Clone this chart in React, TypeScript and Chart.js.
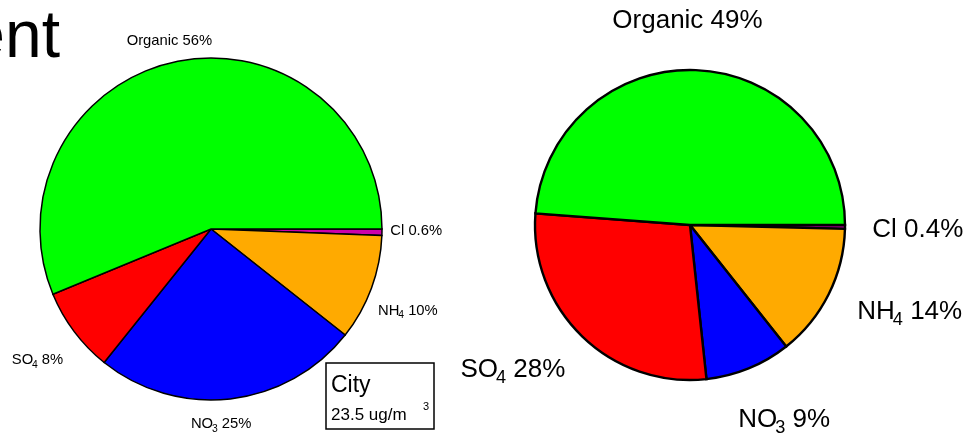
import React, { useEffect, useRef } from 'react';
import { Chart, registerables } from 'chart.js';

Chart.register(...registerables);

// ---- data ----
const categories = ['Cl', 'NH4', 'NO3', 'SO4', 'Organic'];
const cityValues = [0.6, 10, 25, 8, 56];
const secondValues = [0.4, 14, 9, 28, 49];
const sliceColors = ['#CC00AA', '#FFAA00', '#0000FF', '#FF0000', '#00FF00'];
const cityTitle = 'City';
const cityConcentration = '23.5 ug/m';
const concentrationExponent = '3';
const headingFragment = 'ent';

// ---- layout / style ----
const FONT = '"Liberation Sans", Arial, Helvetica, sans-serif';
const W = 972;
const H = 435;

type PieLayout = {
  canvasLeft: number;
  canvasWidth: number;
  cx: number;
  cy: number;
  r: number;
  border: number;
  fontSize: number;
  labelAngleOffset: number[];
  labelRadius: number[];
};

const leftLayout: PieLayout = {
  canvasLeft: 0,
  canvasWidth: 460,
  cx: 211,
  cy: 229,
  r: 171,
  border: 1.5,
  fontSize: 14.8,
  labelAngleOffset: [-0.8, 2.1, 3.5, 0, -1.2],
  labelRadius: [1.2, 1.245, 1.136, 1.268, 1.132],
};

const rightLayout: PieLayout = {
  canvasLeft: 460,
  canvasWidth: 512,
  cx: 230,
  cy: 225,
  r: 155,
  border: 2.4,
  fontSize: 26,
  labelAngleOffset: [0, -5.4, -3.8, 7, -2.85],
  labelRadius: [1.47, 1.52, 1.385, 1.468, 1.33],
};

function labelParts(name: string, value: number, size: number) {
  const m = name.match(/^([A-Za-z]+?)(\d+)$/);
  const rest = ` ${value}%`;
  if (!m) return [{ t: name + rest, s: size, dy: 0, kern: 0 }];
  return [
    { t: m[1], s: size, dy: 0, kern: 0 },
    { t: m[2], s: size * 0.7, dy: size * 0.22, kern: -size * 0.08 },
    { t: rest, s: size, dy: 0, kern: 0 },
  ];
}

function drawLabel(ctx: CanvasRenderingContext2D, name: string, value: number, cx: number, cy: number, size: number) {
  const parts = labelParts(name, value, size);
  let w = 0;
  const widths: number[] = [];
  for (const p of parts) {
    ctx.font = `${p.s}px ${FONT}`;
    const mw = ctx.measureText(p.t).width;
    widths.push(mw);
    w += mw + p.kern;
  }
  let x = cx - w / 2;
  const base = cy + (size * 0.716) / 2;
  ctx.fillStyle = '#000';
  ctx.textAlign = 'left';
  ctx.textBaseline = 'alphabetic';
  parts.forEach((p, i) => {
    ctx.font = `${p.s}px ${FONT}`;
    x += p.kern;
    ctx.fillText(p.t, x, base + p.dy);
    x += widths[i];
  });
}

function makeLabelPlugin(layout: PieLayout, values: number[], extra?: (ctx: CanvasRenderingContext2D) => void) {
  return {
    id: 'sliceLabels',
    afterDraw(chart: any) {
      const ctx: CanvasRenderingContext2D = chart.ctx;
      const meta = chart.getDatasetMeta(0);
      ctx.save();
      meta.data.forEach((arc: any, i: number) => {
        const p = arc.getProps(['x', 'y', 'startAngle', 'endAngle', 'outerRadius'], true);
        const mid = (p.startAngle + p.endAngle) / 2 + (layout.labelAngleOffset[i] * Math.PI) / 180;
        const rr = layout.r * layout.labelRadius[i];
        const lx = p.x + Math.cos(mid) * rr;
        const ly = p.y + Math.sin(mid) * rr;
        drawLabel(ctx, categories[i], values[i], lx, ly, layout.fontSize);
      });
      if (extra) extra(ctx);
      ctx.restore();
    },
  };
}

function drawDecorations(ctx: CanvasRenderingContext2D) {
  // heading fragment (cut off at left edge)
  ctx.fillStyle = '#000';
  ctx.font = `66px ${FONT}`;
  ctx.textAlign = 'right';
  ctx.textBaseline = 'alphabetic';
  ctx.fillText(headingFragment, 60, 57);

  // City box
  ctx.strokeStyle = '#000';
  ctx.lineWidth = 1.5;
  ctx.strokeRect(326, 363, 108, 66);
  ctx.textAlign = 'left';
  ctx.font = `23px ${FONT}`;
  ctx.fillText(cityTitle, 331, 392);
  ctx.font = `17px ${FONT}`;
  ctx.fillText(cityConcentration, 331, 420);
  ctx.font = `11px ${FONT}`;
  ctx.fillText(concentrationExponent, 423, 410);
}

function buildConfig(layout: PieLayout, values: number[], extra?: (ctx: CanvasRenderingContext2D) => void): any {
  const side = 2 * layout.r + layout.border;
  const padLeft = layout.cx - side / 2;
  const padTop = layout.cy - side / 2;
  return {
    type: 'pie',
    data: {
      labels: categories,
      datasets: [
        {
          data: values,
          backgroundColor: sliceColors,
          borderColor: '#000000',
          borderWidth: layout.border,
          borderJoinStyle: 'miter',
        },
      ],
    },
    options: {
      animation: false,
      responsive: false,
      rotation: 90,
      layout: {
        padding: {
          left: padLeft,
          top: padTop,
          right: layout.canvasWidth - padLeft - side,
          bottom: H - padTop - side,
        },
      },
      plugins: {
        legend: { display: false },
        tooltip: { enabled: false },
      },
    },
    plugins: [makeLabelPlugin(layout, values, extra)],
  };
}

function PieCanvas({ layout, values, extra }: { layout: PieLayout; values: number[]; extra?: (ctx: CanvasRenderingContext2D) => void }) {
  const ref = useRef<HTMLCanvasElement | null>(null);
  useEffect(() => {
    if (!ref.current) return;
    const chart = new Chart(ref.current, buildConfig(layout, values, extra));
    return () => chart.destroy();
  }, []);
  return (
    <canvas
      ref={ref}
      width={layout.canvasWidth}
      height={H}
      style={{ position: 'absolute', left: layout.canvasLeft, top: 0, width: layout.canvasWidth, height: H }}
    />
  );
}

export default function App() {
  return (
    <div style={{ position: 'absolute', left: 0, top: 0, width: W, height: H, background: '#fff', overflow: 'hidden' }}>
      <PieCanvas layout={leftLayout} values={cityValues} extra={drawDecorations} />
      <PieCanvas layout={rightLayout} values={secondValues} />
    </div>
  );
}
